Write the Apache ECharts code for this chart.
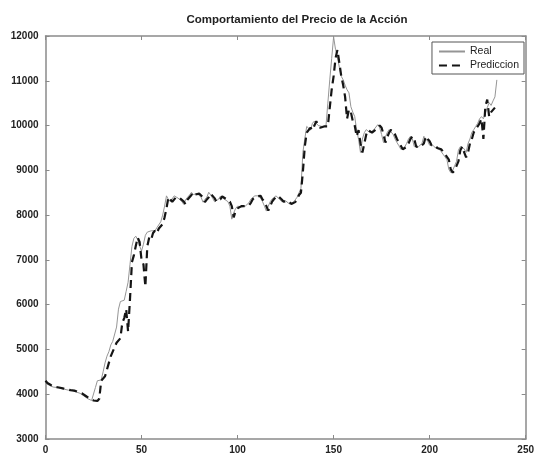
<!DOCTYPE html>
<html>
<head>
<meta charset="utf-8">
<script src="https://cdn.jsdelivr.net/npm/echarts@6/dist/echarts.min.js"></script>
<style>html,body{margin:0;padding:0;background:#fff}#c{width:537px;height:455px}</style>
</head>
<body>
<div id="c"></div>
<script>
var titleText = "Comportamiento del Precio de la Acción";
var seriesNames = ["Real", "Prediccion"];
var xTicks = [0, 50, 100, 150, 200, 250];
var yTicks = [3000, 4000, 5000, 6000, 7000, 8000, 9000, 10000, 11000, 12000];

// Real price, one value per day starting at day 0
var realValues = [
  4250,4220,4200,4180,4160,4150,4150,4140,4130,4120,
  4110,4100,4090,4080,4080,4060,4050,4040,4020,4000,
  3960,3930,3900,3870,3860,3880,4150,4300,4300,4320,
  4500,4700,4850,4950,5100,5180,5200,5500,5900,6070,
  6060,6100,6300,6500,6900,7300,7480,7530,7450,7310,
  7200,7350,7550,7620,7580,7650,7690,7650,7720,7750,
  7850,8000,8200,8430,8350,8300,8290,8430,8400,8380,
  8360,8300,8240,8350,8400,8450,8510,8460,8500,8480,
  8510,8400,8290,8350,8400,8510,8450,8380,8300,8290,
  8350,8420,8400,8360,8380,8300,8200,7910,8050,8150,
  8200,8200,8180,8210,8200,8220,8280,8360,8400,8430,
  8400,8430,8380,8300,8200,8090,8200,8300,8360,8400,
  8430,8400,8350,8300,8280,8320,8300,8250,8280,8290,
  8340,8400,8500,8600,9400,9700,9980,9950,9900,10050,
  10100,10130,10000,9980,9980,9990,9980,10500,11020,11500,
  11980,11700,11530,11300,11100,11020,10900,10800,10730,10420,
  10300,10200,9900,9690,9400,9700,9840,9910,9880,9840,
  9870,9910,9950,10020,9950,9800,9620,9750,9850,9910,
  9880,9800,9700,9620,9550,9470,9500,9520,9600,9700,
  9760,9700,9530,9560,9520,9480,9600,9760,9700,9650,
  9560,9530,9550,9500,9480,9470,9420,9360,9300,9240,
  9020,8950,9000,9100,9200,9450,9530,9550,9480,9400,
  9600,9700,9850,9910,9980,10050,10150,10200,10150,10130,
  10400,10510,10450,10550,10640,11020
];

// Predicted price, one value per day starting at day 0
var predValues = [
  4300,4250,4230,4200,4180,4160,4150,4150,4140,4130,
  4120,4110,4100,4090,4080,4080,4060,4050,4040,4020,
  4000,3960,3930,3900,3870,3860,3850,3850,3900,4300,
  4320,4400,4550,4700,4850,4950,5050,5150,5180,5250,
  5600,5700,5900,5400,6130,6950,7100,7310,7500,7400,
  7000,6900,6400,7300,7500,7450,7600,7650,7600,7700,
  7720,7800,7950,8150,8400,8350,8300,8290,8400,8400,
  8380,8360,8300,8240,8350,8400,8450,8510,8460,8500,
  8480,8510,8400,8290,8350,8400,8480,8450,8380,8300,
  8290,8350,8420,8400,8360,8380,8300,8200,7950,8100,
  8150,8180,8200,8180,8200,8200,8220,8280,8360,8400,
  8420,8400,8430,8350,8300,8200,8100,8200,8300,8360,
  8400,8430,8400,8350,8300,8280,8320,8300,8250,8280,
  8290,8340,8450,8500,8960,9530,9840,9900,9950,9900,
  10000,10100,10000,9950,9980,9980,9990,9980,10400,10800,
  11100,11500,11690,11400,11100,10900,10640,10150,10360,10300,
  10100,10000,9760,9900,9600,9400,9600,9800,9900,9880,
  9840,9870,9910,9950,10000,9950,9800,9620,9750,9850,
  9910,9880,9800,9700,9620,9550,9470,9500,9520,9600,
  9700,9760,9700,9530,9560,9520,9480,9600,9760,9700,
  9650,9560,9530,9550,9500,9480,9470,9420,9360,9300,
  9240,9020,8950,9000,9100,9200,9450,9530,9400,9290,
  9400,9600,9700,9850,9910,9980,10050,10150,9700,10420,
  10580,10200,10300,10350,10400
];

function toPairs(vals){ return vals.map(function(v,i){ return [i, v]; }); }

var chart = echarts.init(document.getElementById('c'));
var font = 'Liberation Sans, Arial, Helvetica, sans-serif';
var axisLineStyle = {color:'#8a8a8a', width:1.5};
function plain(v){ return String(v); }
function xAx(pos, showLabel){
  return {type:'value', position:pos, min:xTicks[0], max:xTicks[xTicks.length-1], interval:50,
    axisLine:{show:true, onZero:false, lineStyle:axisLineStyle},
    axisTick:{show:true, inside:true, length:4, lineStyle:{color:'#8a8a8a'}},
    axisLabel:{show:showLabel, formatter:plain, color:'#222', fontSize:10, fontWeight:'bold', fontFamily:font, margin:6},
    splitLine:{show:false}};
}
function yAx(pos, showLabel){
  return {type:'value', position:pos, min:yTicks[0], max:yTicks[yTicks.length-1], interval:1000,
    axisLine:{show:true, onZero:false, lineStyle:axisLineStyle},
    axisTick:{show:true, inside:true, length:4, lineStyle:{color:'#8a8a8a'}},
    axisLabel:{show:showLabel, formatter:plain, color:'#222', fontSize:10, fontWeight:'bold', fontFamily:font, margin:7},
    splitLine:{show:false}};
}
chart.setOption({
  animation:false,
  backgroundColor:'#fff',
  title:{text:titleText, left:292, textAlign:'center', top:9,
    textStyle:{fontSize:11.5, fontWeight:'bold', color:'#222', fontFamily:font}},
  grid:{left:45.5, right:10, top:36, bottom:14, containLabel:false},
  legend:{orient:'vertical', right:13, top:42, backgroundColor:'#fff',
    borderColor:'#555', borderWidth:1, borderRadius:0, padding:[4,5,3,6], itemGap:3,
    itemWidth:26, itemHeight:10, itemStyle:{opacity:0},
    textStyle:{fontSize:10.5, color:'#222', fontFamily:font},
    data:seriesNames},
  xAxis:[xAx('bottom', true), xAx('top', false)],
  yAxis:[yAx('left', true), yAx('right', false)],
  series:[
    {name:seriesNames[0], type:'line', data:toPairs(realValues), showSymbol:false, symbol:'none',
      lineStyle:{color:'#959595', width:1}, itemStyle:{color:'#959595'}, z:2},
    {name:seriesNames[1], type:'line', data:toPairs(predValues), showSymbol:false, symbol:'none',
      lineStyle:{color:'#151515', width:2.2, type:[8,5]}, itemStyle:{color:'#151515'}, z:3}
  ]
});
</script>
</body>
</html>
